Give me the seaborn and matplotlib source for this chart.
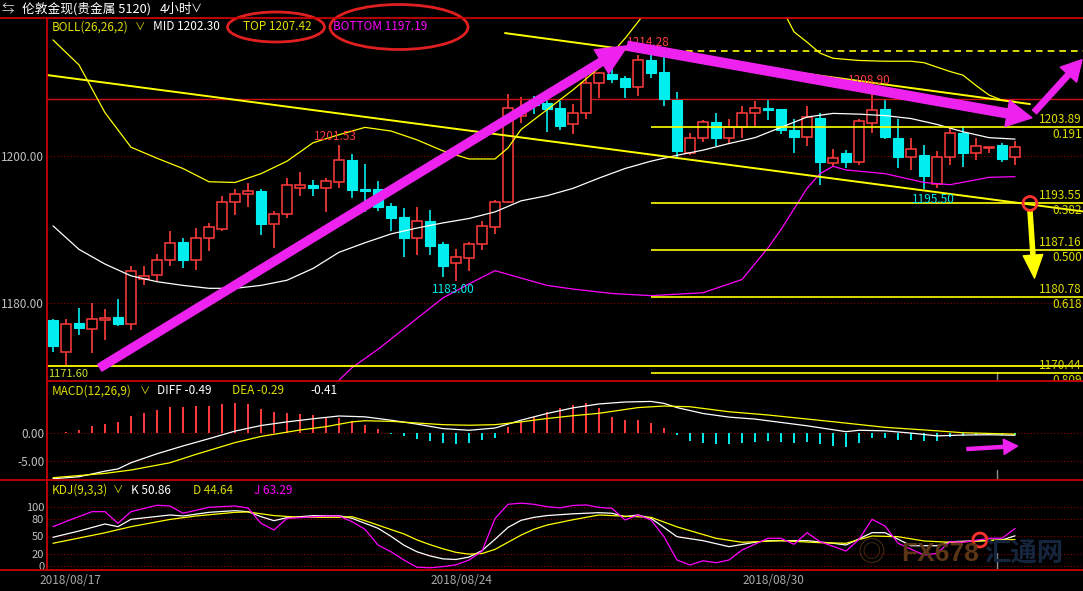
import numpy as np
import matplotlib
matplotlib.use('Agg')
import matplotlib.pyplot as plt
import matplotlib.transforms as mtransforms
from matplotlib.patches import Ellipse
from matplotlib.lines import Line2D
import seaborn as sns

# ---------------- data ----------------
opens = [1177.7, 1173.4, 1177.3, 1176.5, 1177.7, 1178.1, 1177.2, 1183.3, 1183.8, 1185.8,
         1188.3, 1185.8, 1188.9, 1190.1, 1193.8, 1194.9, 1195.2, 1190.7, 1192.1, 1195.7,
         1196.1, 1195.7, 1196.4, 1199.5, 1195.5, 1195.5, 1193.2, 1191.7, 1188.9, 1191.1,
         1188.0, 1185.4, 1186.1, 1188.0, 1190.4, 1193.8, 1205.5, 1207.6, 1207.2, 1206.5,
         1204.3, 1205.8, 1209.9, 1211.2, 1210.6, 1209.4, 1213.1, 1211.4, 1207.6, 1200.4,
         1202.5, 1204.6, 1202.5, 1204.0, 1205.9, 1206.5, 1206.4, 1203.5, 1202.6, 1205.2,
         1199.1, 1200.4, 1199.2, 1204.5, 1206.4, 1202.5, 1199.8, 1200.1, 1196.2, 1199.8,
         1203.1, 1200.4, 1201.1, 1201.5, 1199.8]
highs = [1177.8, 1177.8, 1179.3, 1180.0, 1179.2, 1180.5, 1185.0, 1185.0, 1186.7, 1189.8,
         1188.8, 1190.2, 1190.9, 1194.6, 1195.5, 1196.3, 1195.5, 1192.5, 1197.0, 1197.8,
         1196.7, 1197.0, 1201.53, 1200.3, 1198.9, 1196.6, 1193.6, 1192.9, 1193.0, 1192.7,
         1188.3, 1187.3, 1188.3, 1191.2, 1194.0, 1208.4, 1208.0, 1208.1, 1207.6, 1207.5,
         1207.1, 1211.3, 1211.5, 1212.5, 1210.9, 1213.7, 1214.28, 1213.5, 1208.7, 1203.2,
         1204.9, 1205.8, 1205.0, 1206.8, 1207.5, 1207.8, 1206.4, 1205.1, 1206.8, 1205.8,
         1201.0, 1200.8, 1205.0, 1208.9, 1207.6, 1205.0, 1202.5, 1201.5, 1200.7, 1203.9,
         1204.1, 1202.4, 1201.2, 1201.8, 1202.0]
lows = [1173.3, 1171.6, 1175.6, 1173.2, 1175.0, 1176.9, 1176.3, 1182.4, 1182.8, 1185.1,
        1184.8, 1184.5, 1187.1, 1189.8, 1192.0, 1193.1, 1189.3, 1187.5, 1191.6, 1194.6,
        1194.5, 1192.4, 1195.6, 1194.3, 1192.4, 1192.5, 1189.8, 1186.2, 1186.6, 1186.5,
        1183.6, 1183.0, 1184.4, 1187.2, 1189.4, 1193.6, 1204.5, 1205.7, 1203.3, 1203.5,
        1203.0, 1205.0, 1207.9, 1209.9, 1207.9, 1208.2, 1210.6, 1206.8, 1199.6, 1200.1,
        1201.9, 1201.3, 1201.8, 1202.5, 1204.1, 1204.9, 1203.0, 1200.4, 1201.3, 1196.1,
        1198.6, 1198.4, 1198.8, 1203.1, 1202.3, 1198.4, 1198.1, 1195.5, 1195.6, 1198.8,
        1198.5, 1199.5, 1200.4, 1199.2, 1198.8]
closes = [1174.1, 1177.2, 1176.6, 1177.8, 1178.0, 1177.2, 1184.4, 1183.7, 1185.8, 1188.1,
          1185.8, 1188.9, 1190.4, 1193.7, 1194.9, 1195.3, 1190.7, 1192.1, 1196.0, 1196.0,
          1195.7, 1196.6, 1199.4, 1195.4, 1195.2, 1193.1, 1191.6, 1188.8, 1191.1, 1187.8,
          1185.0, 1186.2, 1188.0, 1190.5, 1193.8, 1206.5, 1205.9, 1207.0, 1206.4, 1204.1,
          1205.8, 1209.9, 1211.3, 1210.5, 1209.4, 1213.0, 1211.3, 1207.8, 1200.7, 1202.4,
          1204.6, 1202.5, 1204.0, 1205.8, 1206.5, 1206.2, 1203.6, 1202.6, 1205.3, 1199.2,
          1199.7, 1199.2, 1204.7, 1206.3, 1202.6, 1199.8, 1200.9, 1197.3, 1199.8, 1203.2,
          1200.4, 1201.3, 1201.2, 1199.6, 1201.2]

boll_mid_idx = [0, 2, 4, 6, 8, 10, 12, 14, 16, 18, 20, 22, 24, 26, 28, 30, 32, 34, 36, 38,
                40, 42, 44, 46, 48, 50, 52, 54, 56, 58, 60, 62, 64, 66, 68, 70, 72, 74]
boll_mid = [1190.5, 1187.3, 1185.3, 1183.7, 1182.9, 1182.4, 1182.0, 1182.0, 1182.4, 1183.1,
            1184.7, 1186.9, 1188.2, 1189.4, 1190.2, 1190.9, 1191.5, 1192.4, 1193.9, 1194.6,
            1195.6, 1197.0, 1198.3, 1199.3, 1200.1, 1200.8, 1201.7, 1202.5, 1203.9, 1205.3,
            1205.8, 1205.7, 1205.5, 1205.1, 1204.3, 1203.3, 1202.5, 1202.3]
boll_top_idx = [0, 2, 4, 6, 8, 10, 12, 14, 16, 18, 20, 22, 24, 26, 28, 30, 32, 34, 35, 36,
                38, 40, 42, 44, 46, 48, 50, 52, 54, 56, 57, 58, 59, 60, 62, 64, 66, 67, 69,
                70, 71, 72, 73, 74]
boll_top = [1215.8, 1212.4, 1205.9, 1201.2, 1199.7, 1198.3, 1196.5, 1196.4, 1197.6, 1199.3,
            1201.8, 1202.9, 1203.9, 1203.4, 1202.2, 1200.7, 1199.6, 1199.6, 1201.1, 1203.6,
            1206.3, 1209.0, 1212.0, 1216.0, 1220.5, 1223.0, 1224.0, 1224.0, 1223.0, 1220.3,
            1216.9, 1215.5, 1214.0, 1213.3, 1213.0, 1212.9, 1212.9, 1212.7, 1211.5, 1211.0,
            1209.6, 1208.3, 1207.6, 1207.42]
boll_bot_idx = [0, 4, 8, 12, 16, 20, 22, 23, 25, 27, 30, 32, 34, 36, 38, 40, 43, 46, 50, 53,
                55, 56, 57, 58, 59, 60, 61, 64, 67, 69, 72, 74]
boll_bot = [1158.0, 1156.0, 1155.0, 1155.5, 1157.0, 1163.0, 1169.5, 1171.2, 1173.7, 1176.5,
            1180.7, 1182.6, 1184.4, 1183.4, 1182.4, 1181.9, 1181.3, 1181.0, 1181.4, 1183.2,
            1187.5, 1190.0, 1192.8, 1195.6, 1197.6, 1198.6, 1198.1, 1197.6, 1196.4, 1196.1,
            1197.1, 1197.19]

macd_hist = [-0.1, 0.05, 0.41, 1.12, 1.55, 1.91, 2.98, 3.52, 3.98, 4.59,
             4.59, 4.77, 4.77, 5.18, 5.23, 5.05, 4.16, 3.63, 3.52, 3.34,
             3.04, 2.55, 2.55, 2.09, 1.38, 0.66, -0.3, -0.7, -1.2, -1.5,
             -1.9, -2.1, -1.8, -1.4, -0.9, 0.9, 1.9, 2.8, 3.6, 4.3,
             4.9, 5.2, 4.3, 2.8, 2.2, 2.2, 1.73, 0.77, -0.48, -1.55,
             -1.84, -2.14, -2.14, -1.84, -1.66, -1.55, -1.73, -1.84, -1.73, -2.14,
             -2.32, -2.55, -1.79, -0.95, -0.95, -1.3, -1.3, -1.6, -1.43, -0.89,
             -0.59, -0.48, -0.48, -0.41, -0.41]
diff_idx = [0, 2, 4, 5, 6, 8, 10, 12, 14, 16, 18, 20, 22, 24, 26, 28, 30, 32, 34, 36, 38,
            40, 42, 44, 46, 47, 48, 50, 52, 54, 56, 58, 60, 61, 62, 64, 66, 68, 70, 72, 74]
diff_vals = [-8.25, -7.9, -6.9, -6.5, -5.4, -3.8, -2.4, -1.1, 0.25, 1.25, 1.9, 2.45, 2.95,
             2.8, 2.2, 1.5, 0.7, 0.4, 0.8, 2.2, 3.4, 4.4, 5.1, 5.45, 5.55, 5.2, 4.45, 3.4,
             2.75, 2.4, 1.8, 1.2, 0.5, 0.15, 0.4, 0.3, -0.1, -0.6, -0.45, -0.4, -0.49]
dea_idx = [0, 4, 6, 9, 11, 14, 16, 19, 21, 23, 24, 26, 28, 30, 32, 34, 36, 38, 40, 42, 45,
           47, 49, 52, 55, 60, 64, 68, 70, 74]
dea_vals = [-8.07, -7.3, -6.7, -5.4, -3.9, -1.8, -0.7, 0.45, 1.05, 1.9, 2.1, 2.0, 1.7, 1.4,
            1.3, 1.4, 1.9, 2.5, 3.0, 3.43, 4.45, 4.73, 4.6, 3.71, 3.13, 1.93, 0.93, 0.3,
            -0.04, -0.29]

k_idx = [0, 2, 4, 5, 6, 9, 10, 12, 14, 15, 16, 17, 18, 20, 22, 23, 25, 26, 27, 28, 29, 30,
         31, 32, 33, 34, 35, 36, 37, 38, 40, 42, 43, 44, 45, 46, 48, 50, 52, 54, 55, 58, 60,
         61, 63, 64, 66, 68, 69, 73, 74]
k_vals = [48.4, 59.0, 70.8, 66.3, 78.7, 86.0, 84.3, 90.5, 93.3, 91.6, 83.2, 76.4, 81.5,
          84.8, 84.8, 80.4, 63.6, 50.0, 35.0, 24.0, 17.0, 12.0, 11.0, 15.0, 26.0, 45.0,
          65.0, 77.0, 82.0, 85.0, 88.0, 89.9, 88.9, 83.2, 86.0, 80.4, 49.4, 42.7, 32.6,
          40.0, 42.7, 42.7, 38.3, 35.4, 56.2, 56.2, 34.2, 34.2, 41.0, 43.8, 50.86]
d_idx = [0, 4, 6, 9, 11, 14, 15, 17, 19, 22, 23, 24, 27, 28, 29, 30, 31, 32, 33, 34, 35,
         36, 37, 38, 40, 42, 45, 46, 48, 51, 53, 56, 59, 61, 63, 65, 67, 69, 73, 74]
d_vals = [38.3, 56.0, 66.3, 78.5, 84.3, 90.5, 91.1, 85.0, 82.1, 82.1, 83.1, 76.4, 54.0,
          44.0, 36.0, 29.0, 23.0, 20.0, 21.0, 28.0, 40.0, 52.0, 62.0, 69.0, 78.0, 86.0,
          83.0, 82.1, 66.0, 46.7, 40.0, 42.7, 39.3, 38.3, 50.6, 49.4, 42.2, 40.0, 43.8,
          44.64]
j_idx = [0, 1, 3, 4, 5, 6, 8, 9, 10, 12, 14, 15, 16, 17, 18, 19, 21, 22, 23, 24, 25, 26,
         27, 28, 29, 30, 31, 32, 33, 34, 35, 36, 37, 38, 39, 40, 41, 42, 43, 44, 45, 46,
         47, 48, 49, 50, 51, 52, 53, 55, 56, 57, 58, 59, 61, 62, 63, 64, 65, 67, 68, 69,
         70, 72, 73, 74]
j_vals = [66.3, 75.0, 91.6, 91.6, 72.0, 91.6, 102.4, 101.2, 88.9, 99.0, 101.2, 97.8, 72.0,
          60.7, 80.4, 81.5, 84.3, 84.3, 74.7, 61.9, 35.4, 24.0, 10.0, -2.0, -3.0, -1.0,
          2.0, 10.0, 25.0, 80.0, 104.0, 106.0, 104.0, 100.0, 98.0, 102.0, 103.0, 98.8,
          97.1, 77.6, 86.0, 77.6, 49.4, 10.1, 1.7, 8.8, 5.5, 10.1, 26.9, 46.7, 46.7, 36.6,
          56.2, 41.0, 25.3, 45.0, 78.7, 67.5, 38.4, 18.5, 21.4, 41.0, 40.1, 46.7, 46.7,
          63.29]

fib_start = 46
fib_levels = [1203.89, 1193.55, 1187.16, 1180.78, 1170.44]
fib_ratios = ['0.191', '0.382', '0.500', '0.618', '0.809']
fib_high = 1214.28
low_line = 1171.4
red_line = 1207.7
trend1 = ([-0.46, 79.23], [1211.02, 1192.46])
trend2 = ([34.77, 75.15], [1216.73, 1207.07])
cursor_x = 72.6

date_labels = ['2018/08/17', '2018/08/24', '2018/08/30']
date_pos = [-1.0, 29.0, 53.0]

# ---------------- style ----------------
sns.set_theme(style='dark', rc={'axes.facecolor': 'black', 'figure.facecolor': 'black'})
plt.rcParams['font.family'] = ['Noto Sans CJK SC', 'DejaVu Sans']
plt.rcParams['axes.unicode_minus'] = False

RED = '#ff3c3c'
CYAN = '#00eeee'
YEL = '#ffff00'
MAG = '#ff00ff'
GRID = '#8c0000'
BORDER = '#c80000'
TYEL = '#dede00'
TICK = '#c0c0c0'
ARROW = '#ee22ee'

W, H = 1083, 591
fig = plt.figure(figsize=(W / 100, H / 100), dpi=100, facecolor='black')


def fx(p):
    return p / W


def fy(p):
    return 1 - p / H


ax = fig.add_axes([fx(47), fy(381), fx(1036), (381 - 18) / H])
axm = fig.add_axes([fx(47), fy(480), fx(1036), (480 - 381) / H], sharex=ax)
axk = fig.add_axes([fx(47), fy(569), fx(1036), (569 - 481) / H], sharex=ax)

for a in (ax, axm, axk):
    a.set_facecolor('black')
    for s in a.spines.values():
        s.set_visible(False)
    a.tick_params(axis='y', length=0, pad=2, labelsize=8.5, labelcolor=TICK)
    a.tick_params(axis='x', length=0, labelbottom=False)
    a.grid(False)
axk.tick_params(axis='y', labelsize=8)

n = len(opens)
x = np.arange(n)
o = np.array(opens); c = np.array(closes); hi = np.array(highs); lo = np.array(lows)
up = c >= o

ax.set_xlim(-0.46, 79.23)
ax.set_ylim(1169.39, 1218.78)
ax.set_yticks([1180, 1200])
ax.set_yticklabels(['1180.00', '1200.00'])
for v in (1180, 1200):
    ax.axhline(v, color=GRID, lw=0.8, ls=(0, (1, 2)), zorder=1)

# candles
cols = np.where(up, RED, CYAN)
ax.vlines(x, lo, hi, colors=cols, lw=1.2, zorder=2)
bottom = np.minimum(o, c)
height = np.maximum(np.abs(c - o), 0.1)
ax.bar(x[up], height[up], bottom=bottom[up], width=0.8, facecolor='black',
       edgecolor=RED, lw=1.1, zorder=3)
ax.bar(x[~up], height[~up], bottom=bottom[~up], width=0.8, facecolor=CYAN,
       edgecolor=CYAN, lw=0.8, zorder=3)

# bollinger
sns.lineplot(x=boll_top_idx, y=boll_top, ax=ax, color=YEL, lw=0.9, zorder=4)
sns.lineplot(x=boll_mid_idx, y=boll_mid, ax=ax, color='white', lw=0.9, zorder=4)
sns.lineplot(x=boll_bot_idx, y=boll_bot, ax=ax, color=MAG, lw=0.9, zorder=4)

# drawn lines
sns.lineplot(x=trend1[0], y=trend1[1], ax=ax, color=YEL, lw=1.4, zorder=4)
sns.lineplot(x=trend2[0], y=trend2[1], ax=ax, color=YEL, lw=1.4, zorder=4)
ax.axhline(red_line, color='#d01010', lw=1.0, zorder=2)
ax.axhline(low_line, color=YEL, lw=1.3, zorder=4)
ax.hlines(fib_high, fib_start, 79.23, color=YEL, lw=1.2, ls=(0, (4, 3)), zorder=4)
ax.hlines(fib_levels, fib_start, 79.23, color=YEL, lw=1.2, zorder=4)
btr = mtransforms.blended_transform_factory(ax.transAxes, ax.transData)
for lvl, r in zip(fib_levels, fib_ratios):
    ax.annotate(f'{lvl:.2f}', (0.999, lvl), xycoords=btr, xytext=(0, 1),
                textcoords='offset pixels', ha='right', va='bottom', color=TYEL,
                fontsize=8.5, annotation_clip=False, zorder=6)
    ax.annotate(r, (0.999, lvl), xycoords=btr, xytext=(0, -1),
                textcoords='offset pixels', ha='right', va='top', color=TYEL,
                fontsize=8.5, annotation_clip=False, zorder=6)

# high / low labels
def lab(i, val, dy, color, dx=0):
    ax.annotate(f'{val:.2f}', (i, val), xytext=(dx, dy), textcoords='offset pixels',
                ha='center', va='center', color=color, fontsize=8.5, zorder=6)

lab(46, highs[46], 9, RED, -3)
lab(63, highs[63], 10, RED, -3)
lab(22, highs[22], 8, RED, -4)
lab(31, lows[31], -9, CYAN, -3)
lab(67, lows[67], -10, CYAN, 9)
ax.annotate(f'{lows[1]:.2f}', (-0.4, lows[1]), xytext=(0, -9), textcoords='offset pixels',
            ha='left', va='center', color='#c8e030', fontsize=8, zorder=6)

# arrows (magenta & yellow)
def arrow(axis, start, tip, color, tw, hw, hl):
    axis.annotate('', xy=tip, xytext=start,
                  arrowprops=dict(arrowstyle=f'simple,head_length={hl},head_width={hw},tail_width={tw}',
                                  color=color, shrinkA=0, shrinkB=0, mutation_scale=10),
                  annotation_clip=False, zorder=8)

arrow(ax, (3.6, 1171.2), (44.2, 1215.0), ARROW, 0.58, 2.0, 2.2)
arrow(ax, (44.2, 1215.0), (75.3, 1205.2), ARROW, 0.65, 1.9, 1.8)
arrow(ax, (75.5, 1206.0), (79.15, 1213.1), ARROW, 0.4, 1.6, 1.45)
arrow(ax, (75.15, 1192.6), (75.5, 1183.4), YEL, 0.3, 1.4, 1.65)
ax.scatter([75.15], [fib_levels[1]], s=100, facecolors='none', edgecolors='#ff3030',
           linewidths=2, zorder=9, clip_on=False)
ax.axvline(cursor_x, ymin=0, ymax=0.025, color='#909090', lw=1)

# ---------------- MACD ----------------
axm.set_ylim(-8.48, 9.2)
axm.set_yticks([-5, 0])
axm.set_yticklabels(['-5.00', '0.00'])
for v in (-5, 0):
    axm.axhline(v, color=GRID, lw=0.8, ls=(0, (1, 2)), zorder=1)
hist = np.array(macd_hist)
axm.vlines(x, 0, hist, colors=np.where(hist >= 0, RED, CYAN), lw=1.4, zorder=2)
sns.lineplot(x=diff_idx, y=diff_vals, ax=axm, color='white', lw=0.9, zorder=3)
sns.lineplot(x=dea_idx, y=dea_vals, ax=axm, color=YEL, lw=0.9, zorder=3)
arrow(axm, (70.3, -2.95), (74.2, -2.41), ARROW, 0.22, 1.1, 1.0)
axm.axvline(cursor_x, ymin=0, ymax=0.1, color='#909090', lw=1)

# ---------------- KDJ ----------------
axk.set_ylim(-5.06, 143.3)
axk.set_yticks([0, 20, 50, 80, 100])
axk.set_yticklabels(['0', '20', '50', '80', '100'])
for v in (0, 20, 50, 80, 100):
    axk.axhline(v, color=GRID, lw=0.8, ls=(0, (1, 2)), zorder=1)
sns.lineplot(x=k_idx, y=k_vals, ax=axk, color='white', lw=0.9, zorder=3)
sns.lineplot(x=d_idx, y=d_vals, ax=axk, color=YEL, lw=0.9, zorder=3)
sns.lineplot(x=j_idx, y=j_vals, ax=axk, color=MAG, lw=0.9, zorder=3)
axk.scatter([71.3], [43.8], s=100, facecolors='none', edgecolors='#ff3030',
            linewidths=2, zorder=9)
axk.axvline(cursor_x, ymin=0, ymax=0.18, color='#909090', lw=1)
for lbl, p in zip(date_labels, date_pos):
    axk.annotate(lbl, (p, -0.125), xycoords=('data', 'axes fraction'), ha='left',
                 va='center', color='#a8a8a8', fontsize=8.5, annotation_clip=False)

for a in (ax, axm, axk):
    a.set_xlabel('')
    a.set_ylabel('')
    if a.get_legend():
        a.get_legend().remove()

# ---------------- frame lines ----------------
def fline(x0, y0, x1, y1, color=BORDER, lw=1.3):
    fig.add_artist(Line2D([fx(x0), fx(x1)], [fy(y0), fy(y1)], transform=fig.transFigure,
                          color=color, lw=lw))

fline(0, 18, W, 18)
fline(47, 381, W, 381)
fline(0, 480, W, 480)
fline(0, 569.5, W, 569.5)
fline(47, 18, 47, 569.5)

# ---------------- header texts ----------------
def ftxt(px, py, s, color, size=8.5, **kw):
    fig.text(fx(px), fy(py), s, color=color, fontsize=size, ha='left', va='center', **kw)

ftxt(2, 9, '⇆', '#d0d0d0', 9)
ftxt(22, 9, '伦敦金现(贵金属 5120)', 'white', 9.2)
ftxt(160, 9, '4小时', 'white', 9.2)
ftxt(191, 9, '∨', 'white', 8)

ftxt(52, 27, 'BOLL(26,26,2)', TYEL)
ftxt(135, 28, '∨', TYEL, 7.5)
ftxt(153, 27, f'MID {boll_mid[-1]:.2f}', 'white')
ftxt(243, 27, f'TOP {boll_top[-1]:.2f}', TYEL)
ftxt(333, 27, f'BOTTOM {boll_bot[-1]:.2f}', MAG)

ftxt(52, 391, 'MACD(12,26,9)', TYEL)
ftxt(140, 392, '∨', TYEL, 7.5)
ftxt(157, 391, f'DIFF {diff_vals[-1]:.2f}', 'white')
ftxt(232, 391, f'DEA {dea_vals[-1]:.2f}', TYEL)
ftxt(310, 391, f'{macd_hist[-1]:.2f}', 'white')

ftxt(52, 490, 'KDJ(9,3,3)', TYEL)
ftxt(113, 491, '∨', TYEL, 7.5)
ftxt(131, 490, f'K {k_vals[-1]:.2f}', 'white')
ftxt(193, 490, f'D {d_vals[-1]:.2f}', TYEL)
ftxt(254, 490, f'J {j_vals[-1]:.2f}', MAG)

for cx, cy, w, h in [(276, 27, 97, 30), (399, 27, 138, 45)]:
    fig.add_artist(Ellipse((fx(cx), fy(cy)), fx(w), h / H, transform=fig.transFigure,
                           fill=False, ec='#e02020', lw=2))

# watermark
fig.text(fx(858), fy(553), '◎', color='#4a2c12', fontsize=20, ha='left', va='center')
fig.text(fx(901), fy(554), 'FX678', color='#5a3616', fontsize=19, fontweight='bold',
         family=['Liberation Sans', 'DejaVu Sans'], ha='left', va='center')
fig.text(fx(984), fy(554), '汇通网', color='#16253e', fontsize=19, fontweight='bold',
         ha='left', va='center')

fig.savefig('out.png', dpi=100, facecolor='black')
